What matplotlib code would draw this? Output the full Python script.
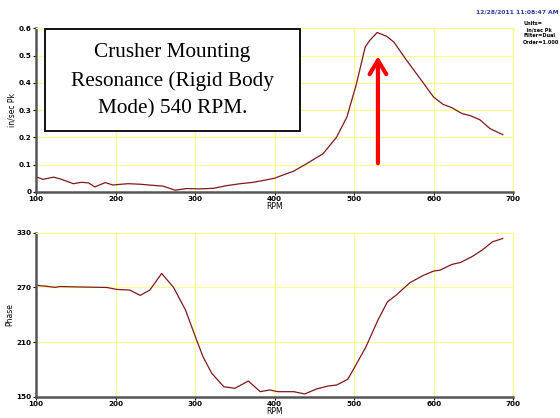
import matplotlib
matplotlib.use("Agg")
import matplotlib.pyplot as plt
from matplotlib.patches import Rectangle

# Top: amplitude (in/sec Pk) vs RPM
amp_rpm = [100, 109, 122, 130, 147, 157, 166, 174, 187, 197, 203, 216, 231, 247, 260, 275,
           289, 306, 323, 340, 357, 373, 386, 400, 407, 424, 440, 461, 478, 491, 503, 514,
           520, 529, 541, 550, 566, 583, 600, 612, 623, 636, 646, 658, 671, 687]
amp_val = [0.055, 0.046, 0.054, 0.048, 0.030, 0.035, 0.033, 0.018, 0.034, 0.025, 0.027, 0.030,
           0.028, 0.024, 0.021, 0.006, 0.012, 0.011, 0.013, 0.023, 0.030, 0.035, 0.042, 0.050,
           0.058, 0.076, 0.103, 0.140, 0.201, 0.275, 0.397, 0.532, 0.557, 0.585, 0.571, 0.550,
           0.483, 0.416, 0.348, 0.321, 0.309, 0.287, 0.280, 0.265, 0.232, 0.210]

# Bottom: phase vs RPM
ph_rpm = [100, 111, 124, 130, 155, 189, 201, 218, 231, 243, 258, 273, 288, 302, 310, 321,
          336, 350, 367, 382, 394, 404, 424, 438, 453, 467, 478, 492, 500, 515, 530, 542,
          553, 570, 586, 600, 608, 623, 634, 648, 661, 674, 687]
ph_val = [272.3, 271.5, 270.1, 271.0, 270.5, 270.0, 267.9, 267.1, 261.3, 267.0, 285.4, 270.0,
          245.2, 212.2, 193.9, 175.7, 161.0, 159.2, 167.2, 155.5, 157.4, 155.5, 155.5, 153.0,
          158.5, 161.7, 162.8, 169.1, 181.2, 204.9, 234.2, 254.3, 261.6, 275.1, 282.8, 288.0,
          289.0, 295.3, 297.5, 303.7, 311.0, 320.1, 323.8]

x_ticks = [100, 200, 300, 400, 500, 600, 700]
amp_ticks = [0, 0.1, 0.2, 0.3, 0.4, 0.5, 0.6]
amp_ticklabels = ["0", "0.1", "0.2", "0.3", "0.4", "0.5", "0.6"]
ph_ticks = [150, 210, 270, 330]
ph_ticklabels = ["150", "210", "270", "330"]

note_text = "Crusher Mounting\nResonance (Rigid Body\nMode) 540 RPM."
legend_lines = ["Units=", "  in/sec Pk", "Filter=Dual", "Order=1.000"]
stamp_text = "12/28/2011 11:08:47 AM"

arrow_x = 530
arrow_y0, arrow_y1 = 0.095, 0.508

line_color = "#801818"
grid_color = "#ffff80"
spine_color = "#555555"
tick_font = dict(fontsize=5.2, fontweight="bold", family="DejaVu Sans")

fig = plt.figure(figsize=(5.6, 4.18), dpi=100)
ax1 = fig.add_axes([0.0643, 0.541, 0.852, 0.391])
ax2 = fig.add_axes([0.0643, 0.051, 0.852, 0.392])


def style(ax, yt, ytl, ylim, ylabel):
    ax.set_xlim(100, 700)
    ax.set_ylim(*ylim)
    ax.set_xticks(x_ticks)
    ax.set_xticklabels([str(t) for t in x_ticks], **tick_font)
    ax.set_yticks(yt)
    ax.set_yticklabels(ytl, **tick_font)
    ax.grid(True, color=grid_color, lw=0.8)
    ax.set_axisbelow(True)
    for s in ["top", "right"]:
        ax.spines[s].set_color(grid_color)
        ax.spines[s].set_linewidth(0.8)
    for s in ["left", "bottom"]:
        ax.spines[s].set_color(spine_color)
        ax.spines[s].set_linewidth(1.8)
    ax.tick_params(length=2, width=0.8, pad=1, colors="black")
    ax.set_xlabel("RPM", fontsize=5.5, labelpad=0)
    ax.set_ylabel(ylabel, fontsize=5.5, labelpad=2)


ax1.plot(amp_rpm, amp_val, color=line_color, lw=0.9)
style(ax1, amp_ticks, amp_ticklabels, (0, 0.6), "in/sec Pk")

ax1.add_patch(Rectangle((0.019, 0.371), 0.534, 0.625, transform=ax1.transAxes,
                        fc="white", ec="black", lw=1.3, zorder=5, clip_on=False))
ax1.text(0.286, 0.680, note_text, transform=ax1.transAxes, ha="center", va="center",
         multialignment="center", family="Liberation Serif", fontsize=15.3,
         linespacing=1.6, zorder=6)

ax1.annotate("", xy=(arrow_x, arrow_y1), xytext=(arrow_x, arrow_y0),
             arrowprops=dict(arrowstyle="->,head_length=1.0,head_width=0.6",
                             color="#ff0000", lw=3))

ax2.plot(ph_rpm, ph_val, color=line_color, lw=0.9)
style(ax2, ph_ticks, ph_ticklabels, (150, 330), "Phase")

fig.text(0.997, 0.972, stamp_text, ha="right", va="center", fontsize=4.3,
         color="#2a3a9a", fontweight="bold")
for i, ln in enumerate(legend_lines):
    fig.text(0.934, 0.943 - i * 0.0145, ln, ha="left", va="center", fontsize=3.6,
             fontweight="bold")

fig.savefig("out.png", dpi=100)
